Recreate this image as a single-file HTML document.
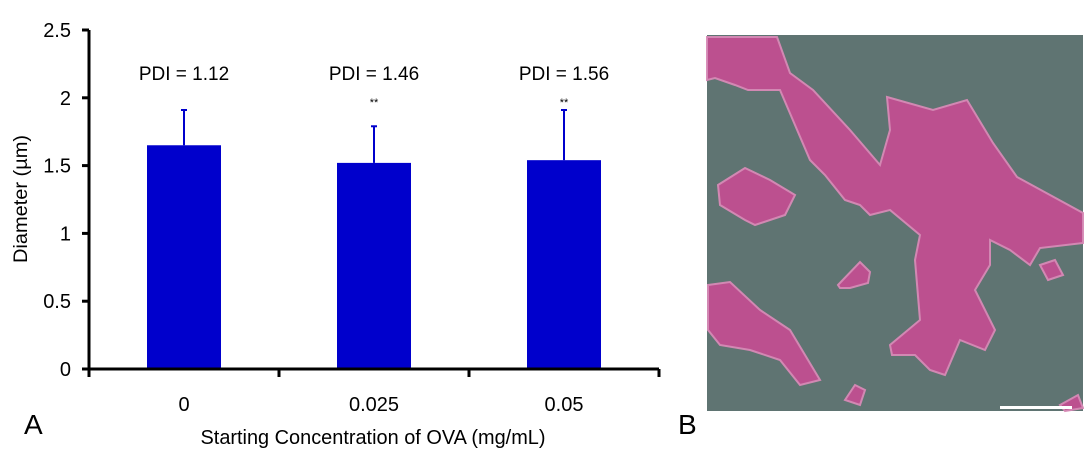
<!DOCTYPE html>
<html><head><meta charset="utf-8"><style>
body{margin:0;background:#fff;width:1084px;height:461px;overflow:hidden;font-family:"Liberation Sans",Arial,sans-serif}
svg text{font-family:"Liberation Sans",Arial,sans-serif}
</style></head><body>
<svg id="chart" width="1084" height="461">
<g id="plot"></g>
<g>
<rect x="707" y="35" width="376" height="376" fill="#5f7472"/>
<g fill="#c24f91" opacity="0.95" stroke="#d98ab7" stroke-width="2">
<polygon points="707,37 777,37 790,73 813,90 850,130 880,165 890,130 887,97 933,110 967,100 993,143 1017,177 1083,213 1083,243 1040,248 1030,265 1010,250 990,240 990,265 975,290 995,330 985,350 960,340 945,375 930,370 915,355 892,355 890,345 920,320 915,260 920,235 890,210 870,215 860,205 845,200 825,175 810,160 795,125 780,90 748,90 735,85 715,78 707,80"/>
<polygon points="718,185 745,168 770,180 795,195 785,215 755,225 745,220 720,205"/>
<polygon points="708,285 730,282 760,310 790,330 820,380 800,385 780,360 750,350 720,345 708,330"/>
<polygon points="838,285 860,262 870,272 868,283 850,288 840,288"/>
<polygon points="845,400 855,385 865,390 860,405"/>
<polygon points="1040,265 1055,260 1063,275 1048,280"/>
<polygon points="1060,405 1078,395 1083,408 1065,411"/>
</g>
<rect x="1000" y="406" width="72" height="3" fill="#fff"/>
</g>
<text x="24" y="434" font-size="28">A</text>
<text x="678" y="434" font-size="28">B</text>
</svg>
<script>
const categories=["0","0.025","0.05"];
const values=[1.65,1.52,1.54];
const errors=[0.26,0.27,0.37];
const pdiLabels=["PDI = 1.12","PDI = 1.46","PDI = 1.56"];
const sigLabels=["","**","**"];
const yTicks=[0,0.5,1,1.5,2,2.5];
const ns="http://www.w3.org/2000/svg";
const g=document.getElementById('plot');
const x0=89,x1=659,yBase=369,yTop=30,yMax=2.5;
const bw=(x1-x0)/categories.length;
const ys=v=>yBase-(v/yMax)*(yBase-yTop);
const xc=i=>x0+bw*(i+0.5);
function mk(t,a){const e=document.createElementNS(ns,t);for(const k in a)e.setAttribute(k,a[k]);g.appendChild(e);return e;}
categories.forEach((c,i)=>{
 const r=mk('rect',{x:xc(i)-37,y:ys(values[i]),width:74,height:yBase-ys(values[i]),fill:'#0000cc'});
 
 
 const el=mk('line',{x1:xc(i),x2:xc(i),y1:ys(values[i]),y2:ys(values[i]+errors[i]),stroke:'#0000cc','stroke-width':2});
 
 
 const ec=mk('line',{x1:xc(i)-3,x2:xc(i)+3,y1:ys(values[i]+errors[i]),y2:ys(values[i]+errors[i]),stroke:'#0000cc','stroke-width':2});
 
 
 const p=mk('text',{x:xc(i),y:80,'font-size':19,'text-anchor':'middle'});p.textContent=pdiLabels[i];
 
 
 if(sigLabels[i]){const s=mk('text',{x:xc(i),y:106,'font-size':11,'text-anchor':'middle'});s.textContent=sigLabels[i];
 
 }
 const t=mk('text',{x:xc(i),y:411,'font-size':20,'text-anchor':'middle'});t.textContent=c;
 
 
});
for(let i=0;i<=categories.length;i++){const tk=mk('line',{x1:x0+bw*i,x2:x0+bw*i,y1:yBase,y2:yBase+8,stroke:'#000','stroke-width':3});
 
 }
yTicks.forEach(v=>{
 const l=mk('line',{x1:x0-7,x2:x0,y1:ys(v),y2:ys(v),stroke:'#000','stroke-width':3});
 
 
 const t=mk('text',{x:x0-18,y:ys(v)+7,'font-size':20,'text-anchor':'end'});t.textContent=v;
 
 
});
const ya=mk('line',{x1:x0,x2:x0,y1:yTop,y2:yBase,stroke:'#000','stroke-width':3});


const xa=mk('line',{x1:x0-7,x2:x1,y1:yBase,y2:yBase,stroke:'#000','stroke-width':3});


const yt=mk('text',{x:0,y:0,'font-size':19,'text-anchor':'middle',textLength:128,lengthAdjust:'spacingAndGlyphs',transform:'translate(27,199) rotate(-90)'});yt.textContent='Diameter (µm)';


const xt=mk('text',{x:373,y:444,'font-size':20,'text-anchor':'middle',textLength:345,lengthAdjust:'spacingAndGlyphs'});xt.textContent='Starting Concentration of OVA (mg/mL)';


</script>
</body></html>
